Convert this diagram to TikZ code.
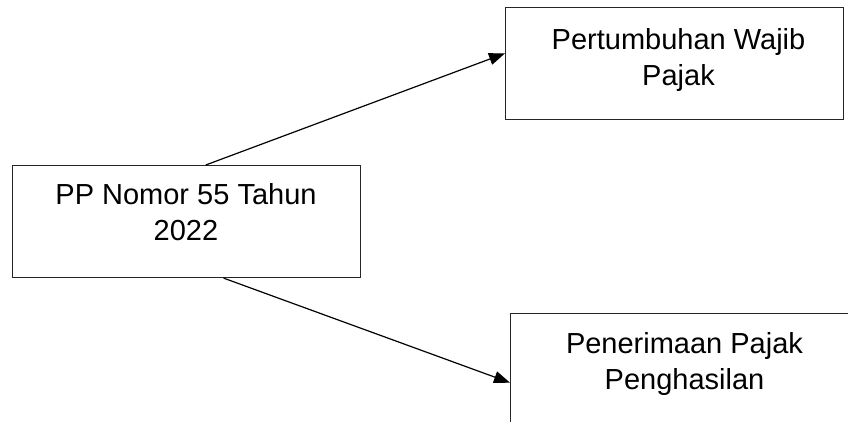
\documentclass[tikz,border=0pt]{standalone}
\usepackage{fontspec}
\setmainfont{Liberation Sans}
\usetikzlibrary{arrows.meta,calc}
\tikzset{
  box/.style={draw=black!85, line width=1.1pt, rectangle, inner sep=0pt, anchor=north west},
  lbl/.style={font=\fontsize{29}{36.5}\selectfont, align=center, inner sep=0pt, anchor=north, text=black},
  conn/.style={draw=black, line width=1.2pt, -{Triangle[length=16pt,width=12pt]}}
}
\begin{document}
\begin{tikzpicture}[x=1pt,y=-1pt]
\useasboundingbox (0,0) rectangle (848,421);
\clip (0,0) rectangle (848,421);
\fill[white] (0,0) rectangle (848,421);
\node[box, minimum width=348pt, minimum height=112pt] (L) at (12,165) {};
\node[box, minimum width=338pt, minimum height=112pt] (T) at (505,7) {};
\node[box, minimum width=350pt, minimum height=112pt] (B) at (510,313) {};
\node[lbl] (Lt) at (186,183) {PP Nomor 55 Tahun\\2022};
\node[lbl] (Tt) at (678.5,28) {Pertumbuhan Wajib\\Pajak};
\node[lbl] (Bt) at (684.5,332) {Penerimaan Pajak\\Penghasilan};
\coordinate (s1) at ($(L.north west)!0.555!(L.north east)$);
\coordinate (e1) at ($(T.north west)!0.41!(T.south west)$);
\coordinate (s2) at ($(L.south west)!0.606!(L.south east)$);
\coordinate (e2) at ($(B.north west)!0.616!(B.south west)$);
\draw[conn] (s1) -- (e1);
\draw[conn] (s2) -- (e2);
\end{tikzpicture}
\end{document}
